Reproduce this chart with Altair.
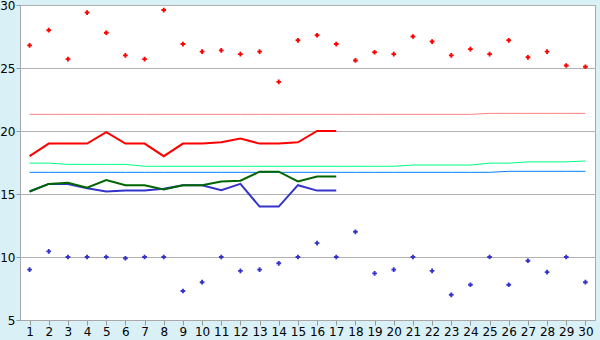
import altair as alt
import pandas as pd

days = [str(d) for d in range(1, 31)]

red_points = [26.8, 28.0, 25.7, 29.4, 27.8, 26.0, 25.7, 29.6, 26.9, 26.3,
              26.4, 26.1, 26.3, 23.9, 27.2, 27.6, 26.9, 25.6, 26.25, 26.1,
              27.5, 27.1, 26.0, 26.5, 26.1, 27.2, 25.85, 26.3, 25.2, 25.1]
blue_points = [9.0, 10.45, 10.0, 10.0, 10.0, 9.9, 10.0, 10.0, 7.3, 8.0,
               10.0, 8.9, 9.0, 9.5, 10.0, 11.1, 10.0, 12.0, 8.7, 9.0,
               10.0, 8.9, 7.0, 7.8, 10.0, 7.8, 9.7, 8.8, 10.0, 8.0]

pink_line = [21.32] * 24 + [21.4] * 6
cyan_line = ([17.45] * 2 + [17.35] * 4 + [17.2] * 14 + [17.3] * 4 +
             [17.45] * 2 + [17.55] * 3 + [17.62])
azure_line = [16.72] * 25 + [16.8] * 5

red_line = [18.0, 19.0, 19.0, 19.0, 19.9, 19.0, 19.0, 18.0, 19.0, 19.0,
            19.1, 19.4, 19.0, 19.0, 19.1, 20.0, 20.0]
green_line = [15.2, 15.8, 15.9, 15.5, 16.1, 15.7, 15.7, 15.35, 15.7, 15.7,
              16.0, 16.06, 16.77, 16.77, 16.0, 16.38, 16.38]
blue_line = [15.2, 15.8, 15.8, 15.45, 15.2, 15.27, 15.27, 15.42, 15.7, 15.7,
             15.3, 15.8, 14.0, 14.0, 15.7, 15.27, 15.27]

FONT = "DejaVu Sans"

x_enc = alt.X(
    "day:O",
    sort=days,
    scale=alt.Scale(domain=days, type="point", padding=0.5),
    axis=alt.Axis(title=None, labelAngle=0, labelFont=FONT, labelFontSize=12,
                  labelColor="#000000", tickSize=5, tickColor="#999999",
                  domainColor="#A8A8A8", labelPadding=1, grid=False),
)
y_scale = alt.Scale(domain=[5, 30], nice=False, zero=False)
y_axis = alt.Axis(title=None, values=[5, 10, 15, 20, 25, 30], labelFont=FONT,
                  labelFontSize=12, labelColor="#000000", tickSize=4,
                  tickColor="#999999", domainColor="#A8A8A8", labelPadding=1,
                  grid=True, gridColor="#B0B0B0", gridWidth=1)


def line_layer(values, color, width):
    df = pd.DataFrame({"day": days[:len(values)], "v": values})
    return alt.Chart(df).mark_line(color=color, strokeWidth=width).encode(
        x=x_enc,
        y=alt.Y("v:Q", scale=y_scale, axis=y_axis),
    )


def point_layer(values, color):
    df = pd.DataFrame({"day": days[:len(values)], "v": values})
    return alt.Chart(df).mark_point(shape="cross", filled=True, size=22,
                                    color=color, opacity=1).encode(
        x=x_enc,
        y=alt.Y("v:Q", scale=y_scale, axis=y_axis),
    )


chart = alt.layer(
    line_layer(pink_line, "#FF8080", 1),
    line_layer(cyan_line, "#00FF80", 1),
    line_layer(azure_line, "#0080FF", 1),
    line_layer(blue_line, "#3333CC", 2),
    line_layer(green_line, "#006600", 2),
    line_layer(red_line, "#FF0000", 2),
    point_layer(red_points, "#FF0000"),
    point_layer(blue_points, "#3333CC"),
).properties(
    width=575,
    height=315,
    background="#D9F0F6",
    autosize=alt.AutoSizeParams(type="none"),
    padding={"left": 20, "top": 5, "right": 5, "bottom": 20},
).configure_view(
    fill="#FFFFFF",
    stroke="#A8A8A8",
    strokeWidth=1,
)

chart.save("out.html", embed_options={"renderer": "svg", "actions": False})
